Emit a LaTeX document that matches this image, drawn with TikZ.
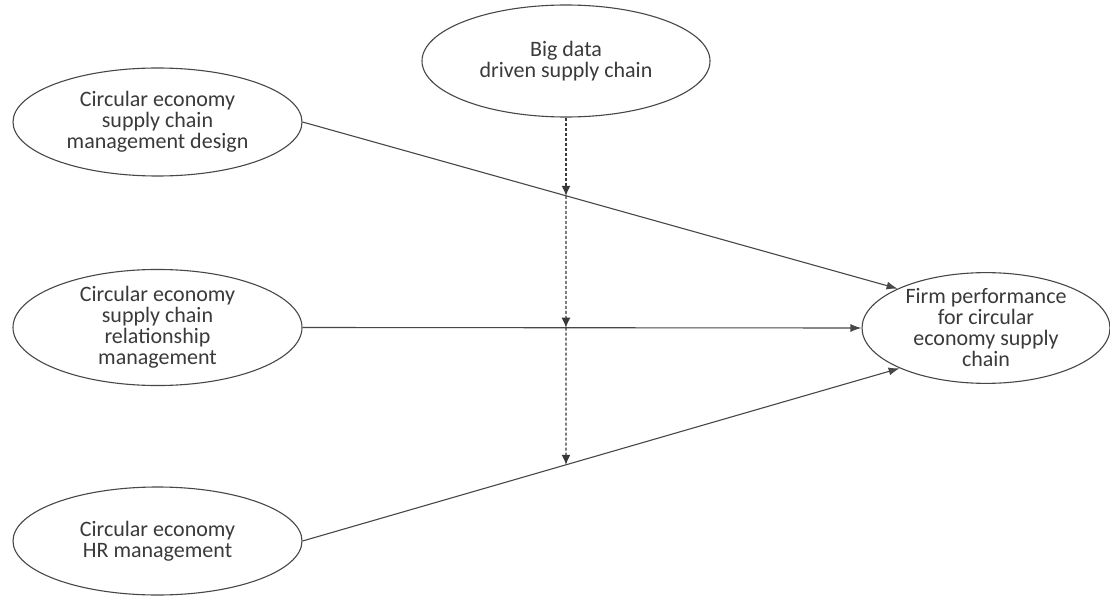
\documentclass[tikz,border=0pt]{standalone}
\usepackage{fontspec}
\setmainfont{Carlito}
\usetikzlibrary{shapes.geometric,arrows.meta}
\definecolor{inkline}{HTML}{474747}
\definecolor{inktext}{HTML}{3A3A3A}
\tikzset{
  construct/.style={ellipse, draw=inkline, line width=1.1pt, inner sep=0pt,
    align=center, text=inktext, font=\fontsize{22}{21}\selectfont},
  effect/.style={draw=inkline, line width=1.1pt,
    -{Latex[length=11pt,width=8pt]}},
  moderation/.style={draw=inkline!80!black, line width=1.2pt, dash pattern=on 3pt off 2pt,
    -{Latex[length=10pt,width=9pt]}}
}
\begin{document}
\begin{tikzpicture}[x=1pt,y=-1pt]
  \useasboundingbox (0,0) rectangle (1110,596);
  \fill[white] (0,0) rectangle (1110,596);

  % constructs
  \node[construct, minimum width=289pt, minimum height=108pt] (design) at (157.5,122)
    {Circular economy\\supply chain\\management design};
  \node[construct, minimum width=289pt, minimum height=111pt] (relation) at (157.5,327.5)
    {Circular economy\\supply chain\\relationship\\management};
  \node[construct, minimum width=289pt, minimum height=108pt] (hr) at (157.5,541)
    {Circular economy\\HR management};
  \node[construct, minimum width=288pt, minimum height=112pt] (bigdata) at (566,61)
    {Big data\\driven supply chain};
  \node[construct, minimum width=248pt, minimum height=106pt] (firm) at (986,328)
    {Firm performance\\for circular\\economy supply\\chain};

  % direct effects
  \draw[effect] (design.east) -- (firm.156);
  \draw[effect] (relation.east) -- (firm.west);
  \draw[effect] (hr.east) -- (firm.205);

  % moderation points on each path
  \coordinate (m1) at (intersection cs:first line={(design.east)--(firm.156)},
    second line={(bigdata.south)--(bigdata.south |- hr.south)});
  \coordinate (m2) at (intersection cs:first line={(relation.east)--(firm.west)},
    second line={(bigdata.south)--(bigdata.south |- hr.south)});
  \coordinate (m3) at (intersection cs:first line={(hr.east)--(firm.205)},
    second line={(bigdata.south)--(bigdata.south |- hr.south)});

  \draw[moderation] (bigdata.south) -- (m1);
  \draw[moderation] (m1) -- (m2);
  \draw[moderation] (m2) -- (m3);
\end{tikzpicture}
\end{document}
